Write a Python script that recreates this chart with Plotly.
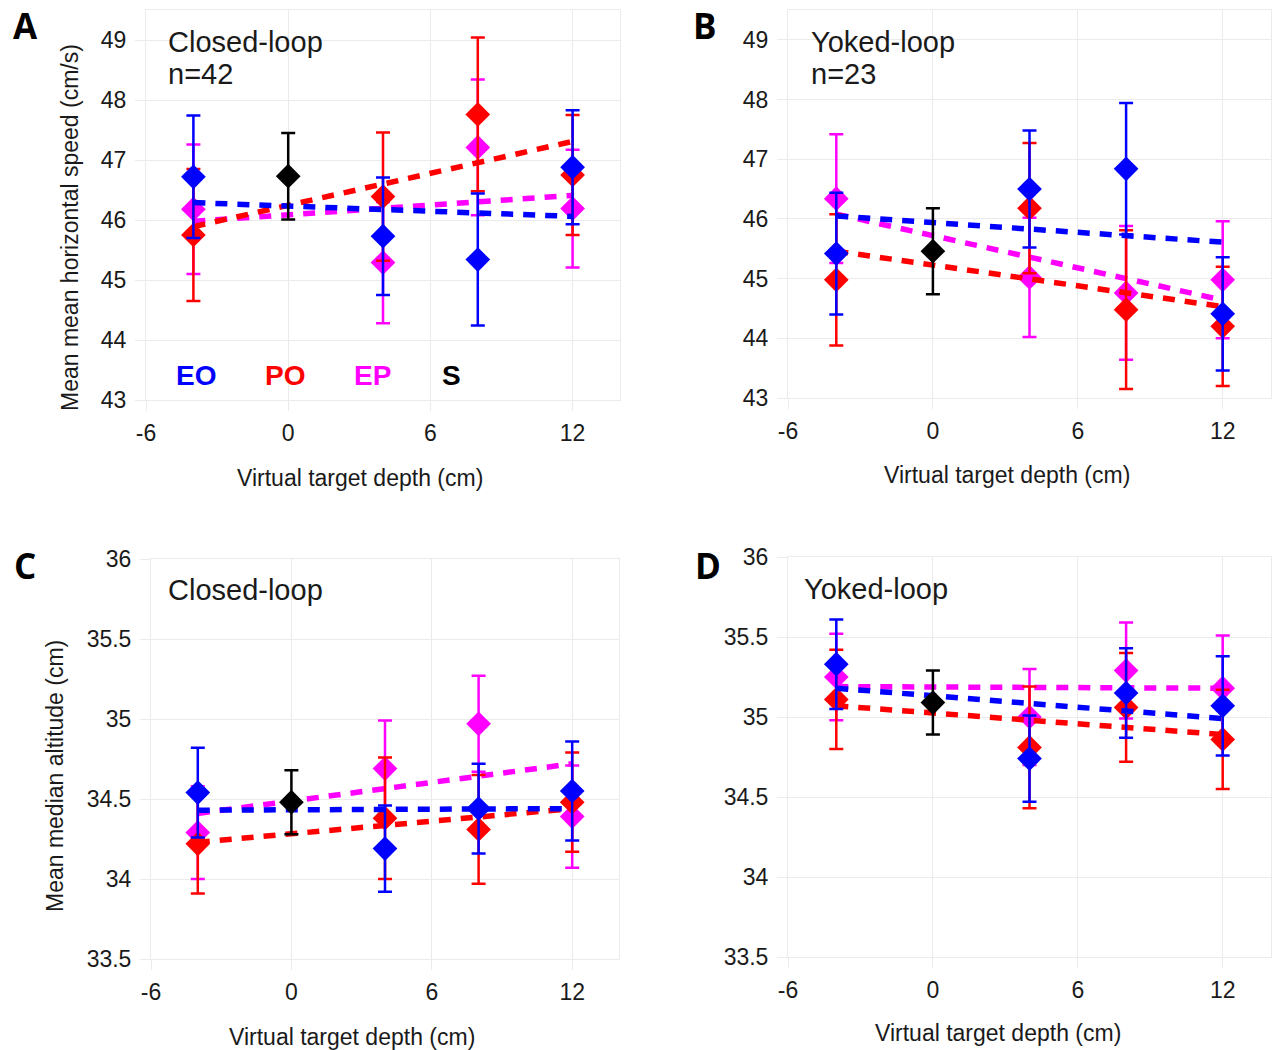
import plotly.graph_objects as go

W, H = 1273, 1050

# ---------------- data ----------------
depths = [-4, 4, 8, 12]
s_depth = [0]
trend_x = [-4, 12]
x_ticks = [-6, 0, 6, 12]
x_ticktext = ["-6", "0", "6", "12"]
speed_ticks = [43, 44, 45, 46, 47, 48, 49]
alt_ticks = [33.5, 34, 34.5, 35, 35.5, 36]
alt_ticktext = ["33.5", "34", "34.5", "35", "35.5", "36"]

# Panel A: Closed-loop, speed
A_EO = [46.72, 45.73, 45.34, 46.88]
A_EO_err = [1.02, 0.98, 1.10, 0.95]
A_PO = [45.75, 46.39, 47.76, 46.75]
A_PO_err = [1.10, 1.07, 1.28, 1.00]
A_EP = [46.18, 45.29, 47.21, 46.19]
A_EP_err = [1.08, 1.01, 1.13, 0.98]
A_S = [46.73]
A_S_err = [0.72]
A_EO_trend = [46.29, 46.06]
A_PO_trend = [45.89, 47.31]
A_EP_trend = [45.98, 46.41]

# Panel B: Yoked-loop, speed
B_EO = [45.42, 46.50, 46.84, 44.41]
B_EO_err = [1.02, 0.98, 1.10, 0.95]
B_PO = [44.98, 46.18, 44.48, 44.20]
B_PO_err = [1.10, 1.09, 1.33, 1.00]
B_EP = [46.34, 45.02, 44.76, 44.98]
B_EP_err = [1.08, 1.00, 1.12, 0.98]
B_S = [45.46]
B_S_err = [0.72]
B_EO_trend = [46.05, 45.61]
B_PO_trend = [45.46, 44.53]
B_EP_trend = [46.08, 44.64]

# Panel C: Closed-loop, altitude
C_EO = [34.54, 34.19, 34.44, 34.55]
C_EO_err = [0.28, 0.27, 0.28, 0.31]
C_PO = [34.22, 34.38, 34.31, 34.48]
C_PO_err = [0.31, 0.38, 0.34, 0.31]
C_EP = [34.29, 34.69, 34.97, 34.39]
C_EP_err = [0.29, 0.30, 0.30, 0.32]
C_S = [34.48]
C_S_err = [0.20]
C_EO_trend = [34.43, 34.44]
C_PO_trend = [34.23, 34.44]
C_EP_trend = [34.41, 34.72]

# Panel D: Yoked-loop, altitude
D_EO = [35.33, 34.74, 35.15, 35.07]
D_EO_err = [0.28, 0.27, 0.28, 0.31]
D_PO = [35.11, 34.81, 35.06, 34.86]
D_PO_err = [0.31, 0.38, 0.34, 0.31]
D_EP = [35.25, 35.00, 35.29, 35.18]
D_EP_err = [0.27, 0.30, 0.30, 0.33]
D_S = [35.09]
D_S_err = [0.20]
D_EO_trend = [35.18, 34.99]
D_PO_trend = [35.07, 34.89]
D_EP_trend = [35.19, 35.18]

BLUE, RED, MAG, BLK = "#0000ff", "#ff0000", "#ff00ff", "#000000"
FONT = "Liberation Sans, Arial, sans-serif"
TXT = "#1a1a1a"
GRID = "#ebebeb"


def px_x(p):
    return p / W


def px_y(p):
    return 1 - p / H


fig = go.Figure()

panels = [
    dict(xa="x", ya="y", data=[(A_EP, A_EP_err, A_EP_trend, MAG), (A_PO, A_PO_err, A_PO_trend, RED),
                              (A_EO, A_EO_err, A_EO_trend, BLUE)], s=(A_S, A_S_err)),
    dict(xa="x2", ya="y2", data=[(B_EP, B_EP_err, B_EP_trend, MAG), (B_PO, B_PO_err, B_PO_trend, RED),
                                (B_EO, B_EO_err, B_EO_trend, BLUE)], s=(B_S, B_S_err)),
    dict(xa="x3", ya="y3", data=[(C_EP, C_EP_err, C_EP_trend, MAG), (C_PO, C_PO_err, C_PO_trend, RED),
                                (C_EO, C_EO_err, C_EO_trend, BLUE)], s=(C_S, C_S_err)),
    dict(xa="x4", ya="y4", data=[(D_EP, D_EP_err, D_EP_trend, MAG), (D_PO, D_PO_err, D_PO_trend, RED),
                                (D_EO, D_EO_err, D_EO_trend, BLUE)], s=(D_S, D_S_err)),
]

for p in panels:
    for vals, errs, trend, col in p["data"]:
        fig.add_trace(go.Scatter(
            x=depths, y=vals, mode="markers", xaxis=p["xa"], yaxis=p["ya"],
            marker=dict(symbol="diamond", size=19, color=col, line=dict(width=0)),
            error_y=dict(type="data", array=errs, visible=True, color=col, thickness=2.5, width=7),
            showlegend=False, hoverinfo="skip"))
        fig.add_trace(go.Scatter(
            x=trend_x, y=trend, mode="lines", xaxis=p["xa"], yaxis=p["ya"],
            line=dict(color=col, width=5.5, dash="12px,10px"),
            showlegend=False, hoverinfo="skip"))
    sv, se = p["s"]
    fig.add_trace(go.Scatter(
        x=s_depth, y=sv, mode="markers", xaxis=p["xa"], yaxis=p["ya"],
        marker=dict(symbol="diamond", size=19, color=BLK, line=dict(width=0)),
        error_y=dict(type="data", array=se, visible=True, color=BLK, thickness=2.5, width=7),
        showlegend=False, hoverinfo="skip"))

common_axis = dict(showgrid=True, gridcolor=GRID, gridwidth=1, zeroline=False,
                   showline=True, linecolor=GRID, linewidth=1, mirror=True,
                   ticks="outside", ticklen=10, tickcolor=GRID, tickwidth=1,
                   tickfont=dict(family=FONT, size=23, color=TXT))

# domains in pixels
dom = {
    "A": dict(x=(146, 620), y=(10, 400)),
    "B": dict(x=(788, 1271), y=(10, 398)),
    "C": dict(x=(151, 619), y=(559, 959)),
    "D": dict(x=(788, 1271), y=(557, 957)),
}

layout = dict(width=W, height=H, margin=dict(l=0, r=0, t=0, b=0, pad=0, autoexpand=False),
              paper_bgcolor="white", plot_bgcolor="white", showlegend=False,
              font=dict(family=FONT, color=TXT))

names = [("xaxis", "yaxis", "A", speed_ticks, None, [43, 49.5]),
         ("xaxis2", "yaxis2", "B", speed_ticks, None, [43, 49.5]),
         ("xaxis3", "yaxis3", "C", alt_ticks, alt_ticktext, [33.5, 36]),
         ("xaxis4", "yaxis4", "D", alt_ticks, alt_ticktext, [33.5, 36])]
for i, (xn, yn, key, yt, ytt, yr) in enumerate(names):
    d = dom[key]
    anchor_x = "y" if i == 0 else f"y{i+1}"
    anchor_y = "x" if i == 0 else f"x{i+1}"
    layout[xn] = dict(common_axis, domain=[px_x(d["x"][0]), px_x(d["x"][1])], range=[-6, 14],
                      tickvals=x_ticks, ticktext=x_ticktext, anchor=anchor_x, ticklabelstandoff=2,
                      automargin=False)
    ya = dict(common_axis, domain=[px_y(d["y"][1]), px_y(d["y"][0])], range=yr,
              tickvals=yt, anchor=anchor_y, ticklabelstandoff=4, automargin=False)
    if ytt:
        ya["ticktext"] = ytt
    layout[yn] = ya

fig.update_layout(**layout)

annotations = []


def ann(text, x, y, size, xanchor="center", color=TXT, bold=False, family=FONT, angle=0):
    annotations.append(dict(
        text=f"<b>{text}</b>" if bold else text, x=px_x(x), y=px_y(y), xref="paper", yref="paper",
        xanchor=xanchor, yanchor="middle", showarrow=False, textangle=angle, borderpad=0,
        font=dict(family=family, size=size, color=color)))


# panel letters
LET = "Open Sans, DejaVu Sans, sans-serif"
ann("A", 25, 25, 35, bold=True, color="#000", family=LET)
ann("B", 705, 25, 35, bold=True, color="#000", family=LET)
ann("C", 25, 565, 35, bold=True, color="#000", family=LET)
ann("D", 708, 565, 35, bold=True, color="#000", family=LET)

# panel titles
ann("Closed-loop", 167, 42, 29, xanchor="left")
ann("n=42", 167, 74, 29, xanchor="left")
ann("Yoked-loop", 810, 42, 29, xanchor="left")
ann("n=23", 810, 74, 29, xanchor="left")
ann("Closed-loop", 167, 590, 29, xanchor="left")
ann("Yoked-loop", 803, 589, 29, xanchor="left")

# condition labels
ann("EO", 196, 376, 28, bold=True, color=BLUE)
ann("PO", 285, 376, 28, bold=True, color=RED)
ann("EP", 372, 376, 28, bold=True, color=MAG)
ann("S", 451, 376, 28, bold=True, color=BLK)

# axis titles
ann("Virtual target depth (cm)", 360, 478, 23)
ann("Virtual target depth (cm)", 1007, 475, 23)
ann("Virtual target depth (cm)", 352, 1037, 23)
ann("Virtual target depth (cm)", 998, 1033, 23)
ann("Mean mean horizontal speed (cm/s)", 70, 228, 23, angle=-90)
ann("Mean median altitude (cm)", 55, 776, 23, angle=-90)

fig.update_layout(annotations=annotations)
fig.write_html("out.html")
